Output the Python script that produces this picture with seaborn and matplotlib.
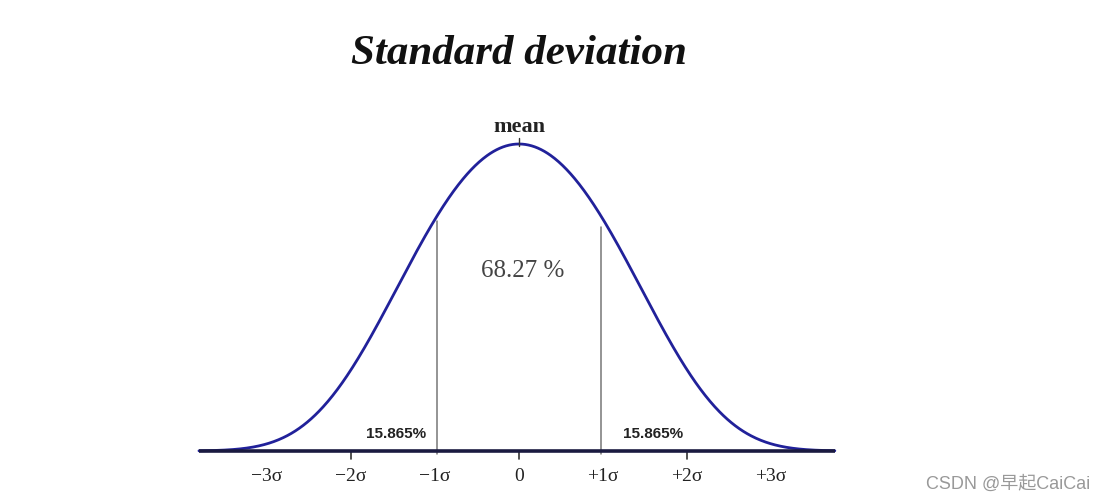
import numpy as np
import pandas as pd
import matplotlib
matplotlib.use("Agg")
import matplotlib.pyplot as plt
import seaborn as sns

# ---- data ----
sigma_multiples = [-3, -2, -1, 0, 1, 2, 3]
tick_labels = ["\u22123\u03c3", "\u22122\u03c3", "\u22121\u03c3", "0", "+1\u03c3", "+2\u03c3", "+3\u03c3"]
marked_ticks = [-2, 0, 2]
boundary_sigmas = [-0.98, 0.98]
boundary_tops = [0.75, 0.73]
tail_labels = ["15.865%", "15.865%"]
center_label = "68.27 %"
title_text = "Standard deviation"
mean_label = "mean"
curve_mean = 0.0
curve_scale = 1.375    # core width of the drawn bell, in sigma-line units
curve_tail = 0.0339    # extra tail steepness of the drawn bell
curve_range = [-3.81, 3.76]
watermark = "CSDN @\u65e9\u8d77CaiCai"

# ---- figure ----
W, H = 1102, 502
sns.set_theme(style="white")
plt.rcParams["font.family"] = ["Liberation Serif", "DejaVu Serif"]
fig = plt.figure(figsize=(W / 100, H / 100), dpi=100)
ax = fig.add_axes([0, 0, 1, 1])

CX, UNIT, BASE, PEAK = 519, 84, 452, 307
ax.set_xlim(-CX / UNIT, (W - CX) / UNIT)
ax.set_ylim((BASE - H) / PEAK, BASE / PEAK)
ax.axis("off")

xs = np.linspace(curve_range[0], curve_range[1], 800)
z = xs - curve_mean
ys = np.exp(-0.5 * ((z / curve_scale) ** 2 + curve_tail * z ** 4))
df = pd.DataFrame({"x": xs, "y": ys})
sns.lineplot(data=df, x="x", y="y", ax=ax, color="#21219a", linewidth=2.0, zorder=3)

# baseline
ax.plot(curve_range, [0, 0], color="#1a1a40", linewidth=2.6, zorder=4, solid_capstyle="butt")

# tick marks below baseline
for m in marked_ticks:
    ax.plot([m, m], [0, -0.025], color="#333333", linewidth=1.2, zorder=2)

# sigma boundary lines
for b, top in zip(boundary_sigmas, boundary_tops):
    ax.plot([b, b], [-0.01, top], color="#777777", linewidth=1.1, zorder=2)

# mean tick
ax.plot([0, 0], [0.995, 1.02], color="#333333", linewidth=1.0, zorder=4)

# tick labels
for m, lab in zip(sigma_multiples, tick_labels):
    ax.text(m, -0.08, lab, ha="center", va="center", fontsize=14, color="#222222")

# tail percentages
for side, lab in zip([-1.46, 1.6], tail_labels):
    ax.text(side, 0.058, lab, ha="center", va="center", fontsize=11, fontweight="bold",
            family=["Liberation Sans", "DejaVu Sans"], color="#222222")

ax.text(0.04, 0.59, center_label, ha="center", va="center", fontsize=18, color="#444444")
ax.text(0.0, 1.026, mean_label, ha="center", va="bottom", fontsize=16, fontweight="bold", color="#222222")

fig.text(519 / W, 1 - 54 / H, title_text, ha="center", va="center", fontsize=31,
         fontweight="bold", fontstyle="italic", color="#111111")

fig.text(1090 / W, 1 - 484 / H, watermark, ha="right", va="center", fontsize=13,
         color="#999999", family=["Liberation Sans", "Noto Sans CJK SC", "DejaVu Sans"])

fig.savefig("out.png", dpi=100, facecolor="white")
